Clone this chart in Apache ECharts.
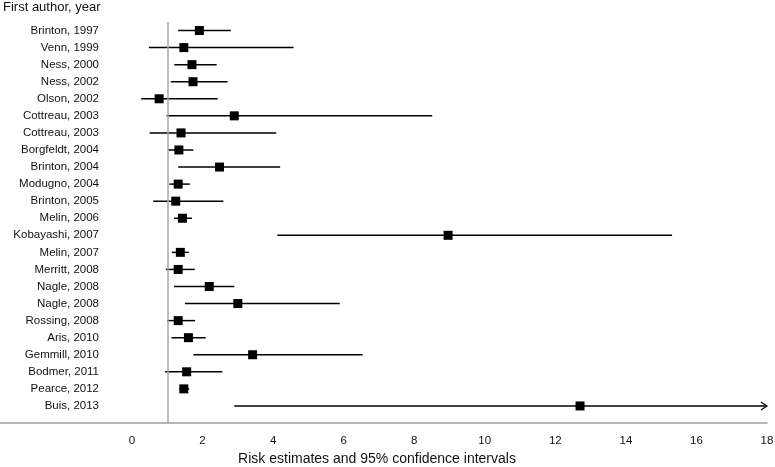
<!DOCTYPE html>
<html>
<head>
<meta charset="utf-8">
<script src="https://cdn.jsdelivr.net/npm/echarts@6/dist/echarts.min.js"></script>
<style>html,body{margin:0;padding:0;background:#fff}#c{width:775px;height:467px}</style>
</head>
<body>
<div id="c"></div>
<script>
var studies = ['Brinton, 1997','Venn, 1999','Ness, 2000','Ness, 2002','Olson, 2002','Cottreau, 2003','Cottreau, 2003','Borgfeldt, 2004','Brinton, 2004','Modugno, 2004','Brinton, 2005','Melin, 2006','Kobayashi, 2007','Melin, 2007','Merritt, 2008','Nagle, 2008','Nagle, 2008','Rossing, 2008','Aris, 2010','Gemmill, 2010','Bodmer, 2011','Pearce, 2012','Buis, 2013'];
var estimate = [1.91,1.47,1.70,1.73,0.77,2.90,1.39,1.33,2.48,1.31,1.24,1.43,8.96,1.37,1.31,2.19,3.00,1.31,1.60,3.42,1.55,1.47,12.70];
var lowerCI  = [1.31,0.48,1.20,1.10,0.26,0.98,0.50,1.03,1.31,1.06,0.60,1.19,4.12,1.13,0.96,1.19,1.50,1.00,1.12,1.74,0.94,1.33,2.90];
var upperCI  = [2.80,4.58,2.40,2.71,2.43,8.51,4.09,1.74,4.20,1.64,2.59,1.70,15.31,1.61,1.78,2.90,5.89,1.79,2.09,6.54,2.56,1.62,18];
var truncated = [false,false,false,false,false,false,false,false,false,false,false,false,false,false,false,false,false,false,false,false,false,false,true];
var xTicks = [0,2,4,6,8,10,12,14,16,18];
var referenceValue = 1;

var n = studies.length;
var rowPos = studies.map(function(_, i){ return n - i; });
var yTicks = rowPos.slice();
var ciData = studies.map(function(_, i){ return [lowerCI[i], upperCI[i], rowPos[i], truncated[i] ? 1 : 0]; });
var ptData = studies.map(function(_, i){ return [estimate[i], rowPos[i]]; });

var font = '"Liberation Sans", Arial, sans-serif';
var chart = echarts.init(document.getElementById('c'));
chart.setOption({
  animation: false,
  backgroundColor: '#fff',
  title: {
    text: 'First author, year', left: 3, top: 1, padding: 0,
    textStyle: { fontFamily: font, fontSize: 13, fontWeight: 'normal', color: '#111' }
  },
  grid: { left: 0, right: 8, top: 22, bottom: 44, containLabel: false, outerBoundsMode: 'none' },
  xAxis: {
    type: 'value', min: -3.741, max: 18,
    name: 'Risk estimates and 95% confidence intervals',
    nameLocation: 'middle', nameGap: 29,
    nameTextStyle: { fontFamily: font, fontSize: 14, color: '#111', padding: [0,13,0,0] },
    axisLine: { show: true, lineStyle: { color: '#a0a0a0', width: 1.5 } },
    axisTick: { show: false },
    splitLine: { show: false },
    axisLabel: { customValues: xTicks, fontFamily: font, fontSize: 11.5, color: '#111', margin: 12 }
  },
  yAxis: {
    type: 'value', min: 0, max: 23.5,
    axisLine: { show: false }, axisTick: { show: false }, splitLine: { show: false },
    axisLabel: {
      customValues: yTicks, margin: -99, align: 'right',
      fontFamily: font, fontSize: 11.5, color: '#111',
      formatter: function(v){ var i = n - Math.round(v); return studies[i] || ''; }
    }
  },
  series: [
    {
      type: 'custom',
      data: ciData,
      encode: { x: [0,1], y: 2 },
      clip: false,
      renderItem: function(params, api){
        var lo = api.value(0), hi = api.value(1), y = api.value(2), tr = api.value(3);
        var p1 = api.coord([lo, y]), p2 = api.coord([hi, y]);
        var children = [{
          type: 'line',
          shape: { x1: p1[0], y1: p1[1], x2: p2[0], y2: p2[1] },
          style: { stroke: '#000', lineWidth: 1.5 }
        }];
        if (tr) {
          children.push({
            type: 'polyline',
            shape: { points: [[p2[0]-6, p2[1]-4],[p2[0], p2[1]],[p2[0]-6, p2[1]+4]] },
            style: { stroke: '#000', lineWidth: 1.2, fill: null }
          });
        }
        return { type: 'group', children: children };
      },
      markLine: {
        silent: true, symbol: 'none', label: { show: false },
        lineStyle: { color: '#a6a6a6', width: 1.5, type: 'solid' },
        data: [{ xAxis: referenceValue }]
      },
      z: 2
    },
    {
      type: 'scatter',
      data: ptData,
      symbol: 'rect', symbolSize: 9,
      itemStyle: { color: '#000', opacity: 1 },
      z: 3
    }
  ]
});
</script>
</body>
</html>
